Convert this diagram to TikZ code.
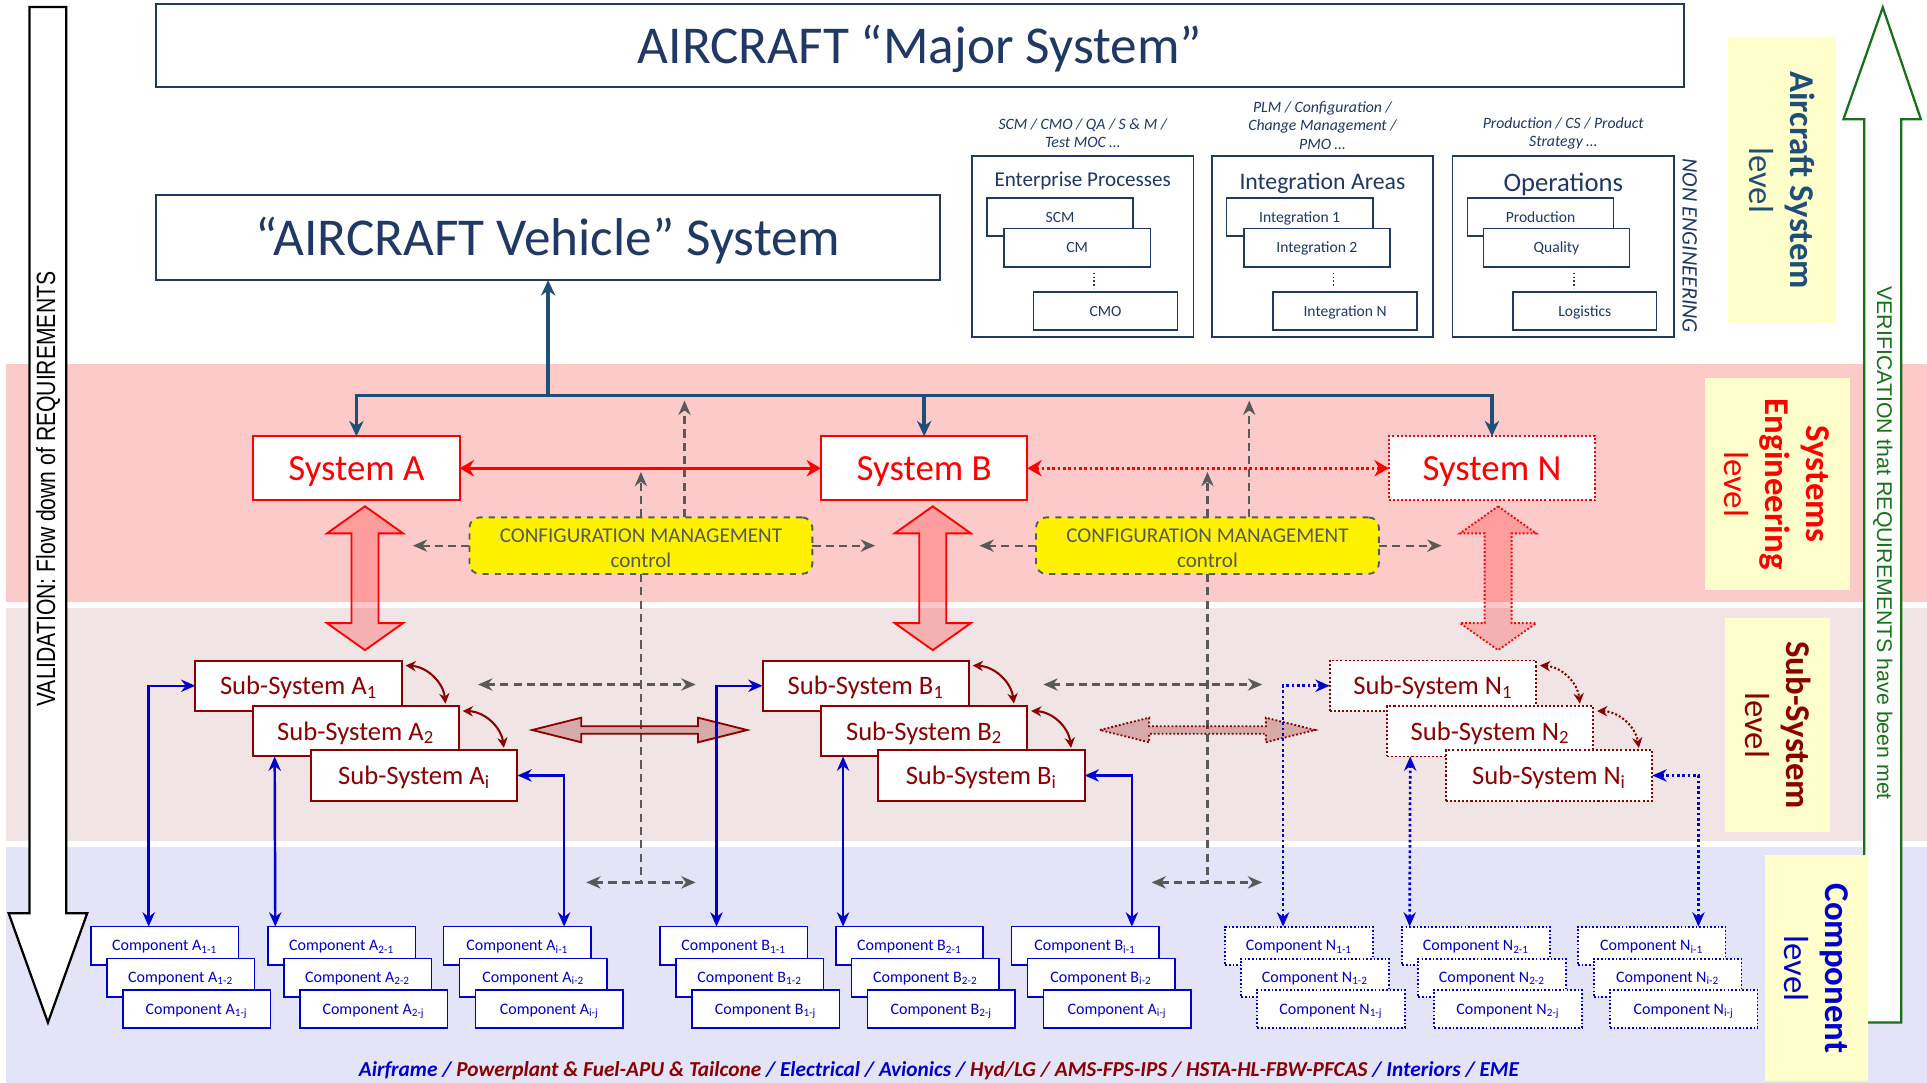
\documentclass[tikz,border=0pt]{standalone}
\usepackage{fontspec}
\setmainfont{Carlito}
\newfontfamily\narrowsans[FakeStretch=0.8]{Liberation Sans}
\newfontfamily\plainsans{Liberation Sans}
\usetikzlibrary{arrows.meta,calc}

\definecolor{navy}{HTML}{1F3864}
\definecolor{busblue}{HTML}{1F4E79}
\definecolor{dred}{HTML}{8B0000}
\definecolor{cblue}{HTML}{0000CC}
\definecolor{cmgray}{HTML}{595959}
\definecolor{bandsys}{HTML}{FDCACA}
\definecolor{bandsub}{HTML}{F1E4E4}
\definecolor{bandcomp}{HTML}{E3E4F7}
\definecolor{lblyellow}{HTML}{FFFFCC}
\definecolor{vgreen}{HTML}{177217}

\tikzset{
  every node/.style={inner sep=0pt,outer sep=0pt},
  sz/.style 2 args={minimum width=#1*0.6pt,minimum height=#2*0.6pt},
  lb/.style 2 args={text height=#1pt,text depth=#2pt},
  bigbox/.style={draw=navy,line width=0.9pt,fill=white,text=navy,lb={24.2}{7},font=\fontsize{26}{30}\selectfont},
  grpbox/.style={draw=navy,line width=0.8pt,fill=white,sz={180}{147}},
  itembox/.style={draw=navy,line width=0.8pt,fill=white,text=navy,lb={7.07}{2.05},font=\fontsize{7.6}{9}\selectfont},
  captxt/.style={text=navy,align=center,font=\itshape\fontsize{7.7}{9.1}\selectfont},
  dotline/.style={draw=navy,line width=0.8pt,densely dotted},
  sysbox/.style={draw=red,line width=1pt,fill=white,text=red,sz={168}{52},lb={16.7}{4.9},font=\fontsize{18}{20}\selectfont},
  subbox/.style={draw=dred,line width=1pt,fill=white,text=dred,sz={168}{41},lb={12.1}{3.5},font=\fontsize{13}{15}\selectfont},
  compbox/.style={draw=cblue,line width=0.8pt,fill=white,text=cblue,sz={120}{31},lb={7.25}{2.1},font=\fontsize{7.8}{9}\selectfont},
  dotbox/.style={densely dotted,line width=0.9pt},
  cmbox/.style={draw=cmgray,dashed,line width=0.9pt,fill=yellow,rounded corners=5pt,text=cmgray,align=center,sz={279}{46},font=\fontsize{10.3}{12.5}\selectfont},
  cmline/.style={draw=cmgray,line width=1.1pt,dash pattern=on 4pt off 2.5pt},
  cmarrow/.style={cmline,-{Stealth[length=7pt,width=6pt]}},
  cmboth/.style={cmline,{Stealth[length=7pt,width=6pt]}-{Stealth[length=7pt,width=6pt]}},
  bus/.style={draw=busblue,line width=1.7pt,-{Stealth[length=7.5pt,width=7pt]}},
  redlink/.style={draw=red,line width=1.3pt,{Stealth[length=7pt,width=8pt]}-{Stealth[length=7pt,width=8pt]}},
  bluelink/.style={draw=cblue,line width=1.2pt,{Stealth[length=7pt,width=6pt]}-{Stealth[length=7pt,width=6pt]}},
  bluedot/.style={bluelink,line width=1.3pt,dash pattern=on 1.3pt off 1.3pt},
  subcurve/.style={draw=dred,line width=1pt,{Stealth[length=5pt,width=5pt]}-{Stealth[length=5pt,width=5pt]}},
  lvlbox/.style={fill=lblyellow,align=center,rotate=-90,font=\fontsize{17}{20}\selectfont},
  redblock/.style={draw=red,line width=0.9pt,fill=red,fill opacity=0.22},
  dredblock/.style={draw=dred,line width=0.9pt,fill=dred,fill opacity=0.25},
  vdouble/.pic={\path[pic actions] (0,-58.5) -- (31,-36.5) -- (11,-36.5) -- (11,36.5) -- (31,36.5) -- (0,58.5) -- (-31,36.5) -- (-11,36.5) -- (-11,-36.5) -- (-31,-36.5) -- cycle;},
  hdouble/.pic={\path[pic actions] (-87.5,0) -- (-47.5,-10) -- (-47.5,-3) -- (47.5,-3) -- (47.5,-10) -- (87.5,0) -- (47.5,10) -- (47.5,3) -- (-47.5,3) -- (-47.5,10) -- cycle;},
}

% one stack of three overlapping component boxes
% #1 extra style, #2 name prefix, #3 left x, #4 letter, #5 index, #6 letter of last box
\newcommand\compstack[6]{%
  \node[compbox,#1] (#2a) at ({#3+60},769.5) {Component #4\textsubscript{#5-1}};
  \node[compbox,#1] (#2b) at ({#3+73},795.5) {Component #4\textsubscript{#5-2}};
  \node[compbox,#1] (#2j) at ({#3+86},821) {Component #6\textsubscript{#5-j}};
}
\newcommand\cmtext{\rule{0pt}{0.9em}CONFIGURATION MANAGEMENT\\control}

\begin{document}
\begin{tikzpicture}[x=0.6pt,y=-0.6pt]
\useasboundingbox (0,0) rectangle (1568,881);
\fill[white] (0,0) rectangle (1568,881);

% level bands
\fill[bandsys] (5,296) rectangle (1568,490);
\fill[bandsub] (5,495) rectangle (1568,684);
\fill[bandcomp] (5,689) rectangle (1568,881);

% validation arrow (down) and verification arrow (up)
\draw[fill=white,line width=1.1pt,line join=miter] (24,5.6) -- (54,5.6) -- (54,743) -- (71,743) -- (39,832) -- (7,743) -- (24,743) -- cycle;
\node[rotate=90,font=\narrowsans\fontsize{12.9}{14}\selectfont] (valtxt) at (39,398) {VALIDATION: Flow down of REQUIREMENTS};
\draw[draw=vgreen,fill=white,line width=1.1pt,line join=miter] (1517,832) -- (1517,97) -- (1500,97) -- (1532,6) -- (1563,97) -- (1547,97) -- (1547,832) -- cycle;
\node[rotate=-90,text=vgreen,font=\plainsans\fontsize{10.4}{12}\selectfont] (vertxt) at (1532,442) {VERIFICATION that REQUIREMENTS have been met};

% level labels
\node[lvlbox,sz={233}{88},text=busblue] (lvlac) at (1450,146.5) {\textbf{Aircraft System}\\level};
\node[lvlbox,sz={172.5}{118},text=red] (lvlse) at (1446,394) {\textbf{Systems}\\\textbf{Engineering}\\level};
\node[lvlbox,sz={174}{85},text=dred] (lvlss) at (1446.5,590) {\textbf{Sub-System}\\level};
\node[lvlbox,sz={184}{84.5},text=cblue] (lvlco) at (1478,788) {\textbf{Component}\\level};

% aircraft level
\node[bigbox,sz={1243}{68}] (major) at (748.5,37) {AIRCRAFT “Major System”};
\node[bigbox,sz={638}{69}] (vehicle) at (446,193.5) {“AIRCRAFT Vehicle” System};

% non engineering groups
\node[captxt] (capE) at (881,108.5) {SCM / CMO / QA / S \& M /\\Test MOC …};
\node[captxt] (capI) at (1076,102) {PLM / Configuration /\\Change Management /\\PMO …};
\node[captxt] (capO) at (1272,108.5) {Production / CS / Product\\Strategy …};

\node[grpbox] (grpE) at (881,200.5) {};
\node[text=navy,lb={9.6}{2.8},font=\fontsize{10.3}{12}\selectfont] (grpEt) at (881,146) {Enterprise Processes};
\node[itembox,sz={119}{31}] (scm) at (862.5,176.5) {SCM};
\node[itembox,sz={119}{31}] (cmi) at (876.5,201.5) {CM};
\node[itembox,sz={117}{31}] (cmo) at (899.5,253) {CMO};
\draw[dotline] (890,222) -- (890,234);

\node[grpbox] (grpI) at (1076,200.5) {};
\node[text=navy,lb={10.8}{3.1},font=\fontsize{11.6}{13}\selectfont] (grpIt) at (1076,148) {Integration Areas};
\node[itembox,sz={119}{31}] (int1) at (1057.5,176.5) {Integration 1};
\node[itembox,sz={119}{31}] (int2) at (1071.5,201.5) {Integration 2};
\node[itembox,sz={117}{31}] (intn) at (1094.5,253) {Integration N};
\draw[dotline] (1085,222) -- (1085,234);

\node[grpbox] (grpO) at (1272,200.5) {};
\node[text=navy,lb={12.1}{3.5},font=\fontsize{13}{15}\selectfont] (grpOt) at (1272,149) {Operations};
\node[itembox,sz={119}{31}] (prod) at (1253.5,176.5) {Production};
\node[itembox,sz={119}{31}] (qual) at (1266.5,201.5) {Quality};
\node[itembox,sz={117}{31}] (logi) at (1289.5,253) {Logistics};
\draw[dotline] (1281,222) -- (1281,234);

\node[rotate=-90,text=navy,font=\itshape\fontsize{10.8}{12}\selectfont] (noneng) at (1375,200) {NON ENGINEERING};

% systems level
\node[sysbox] (sysA) at (290,381) {System A};
\node[sysbox] (sysB) at (752,381) {System B};
\node[sysbox,dotbox] (sysN) at (1214,381) {System N};

\coordinate (jn) at (446,322);
\draw[bus] (jn) -- (vehicle.south);
\draw[bus] (jn) -| (sysA.north);
\draw[bus] (jn) -| (sysB.north);
\draw[bus] (jn) -| (sysN.north);

\draw[redlink] (sysA) -- (sysB);
\draw[redlink,dash pattern=on 1.3pt off 1.3pt] (sysB) -- (sysN);

% configuration management control
\node[cmbox] (cm1) at (521.5,444) {\cmtext};
\node[cmbox] (cm2) at (982.5,444) {\cmtext};

\coordinate (cm1l) at (336,444);   \coordinate (cm1r) at (712,444);
\coordinate (cm1u) at (521.5,384); \coordinate (cm1v) at (557,326);
\coordinate (cm1d) at (521.5,718);
\coordinate (cm1s1) at (389,557);  \coordinate (cm1s2) at (566,557);
\coordinate (cm1c1) at (477,718);  \coordinate (cm1c2) at (566,718);
\draw[cmarrow] (cm1.west) -- (cm1l);
\draw[cmarrow] (cm1.east) -- (cm1r);
\draw[cmarrow] (cm1.north) -- (cm1u);
\draw[cmarrow] ($(cm1.north)+(35.5,0)$) -- (cm1v);
\draw[cmline] (cm1.south) -- (cm1d);
\draw[cmboth] (cm1s1) -- (cm1s2);
\draw[cmboth] (cm1c1) -- (cm1c2);

\coordinate (cm2l) at (797,444);   \coordinate (cm2r) at (1173,444);
\coordinate (cm2u) at (982.5,384); \coordinate (cm2v) at (1016.5,326);
\coordinate (cm2d) at (982.5,718);
\coordinate (cm2s1) at (849,557);  \coordinate (cm2s2) at (1027,557);
\coordinate (cm2c1) at (937,718);  \coordinate (cm2c2) at (1027,718);
\draw[cmarrow] (cm2.west) -- (cm2l);
\draw[cmarrow] (cm2.east) -- (cm2r);
\draw[cmarrow] (cm2.north) -- (cm2u);
\draw[cmarrow] ($(cm2.north)+(34,0)$) -- (cm2v);
\draw[cmline] (cm2.south) -- (cm2d);
\draw[cmboth] (cm2s1) -- (cm2s2);
\draw[cmboth] (cm2c1) -- (cm2c2);

% system <-> sub-system block arrows
\pic[redblock] at (297,470.5) {vdouble};
\pic[redblock] at (759,470.5) {vdouble};
\pic[redblock,densely dotted] at (1219,470.5) {vdouble};

% sub-system <-> sub-system block arrows
\pic[dredblock] at (520.5,594) {hdouble};
\pic[dredblock,densely dotted] at (982.5,594) {hdouble};

% sub-systems
\node[subbox] (A1) at (243,558) {Sub-System A\textsubscript{1}};
\node[subbox] (A2) at (289.5,595) {Sub-System A\textsubscript{2}};
\node[subbox] (Ai) at (337,631) {Sub-System A\textsubscript{i}};
\node[subbox] (B1) at (704.5,558) {Sub-System B\textsubscript{1}};
\node[subbox] (B2) at (752,595) {Sub-System B\textsubscript{2}};
\node[subbox] (Bi) at (798.5,631) {Sub-System B\textsubscript{i}};
\node[subbox,dotbox] (N1) at (1166,558) {Sub-System N\textsubscript{1}};
\node[subbox,dotbox] (N2) at (1212.5,595) {Sub-System N\textsubscript{2}};
\node[subbox,dotbox] (Ni) at (1260.5,631) {Sub-System N\textsubscript{i}};

\draw[subcurve] ($(A1.north east)+(3,4)$) to[bend left=40] ($(A2.north east)+(-11,-2)$);
\draw[subcurve] ($(A2.north east)+(3,4)$) to[bend left=40] ($(Ai.north east)+(-11,-2)$);
\draw[subcurve] ($(B1.north east)+(3,4)$) to[bend left=40] ($(B2.north east)+(-11,-2)$);
\draw[subcurve] ($(B2.north east)+(3,4)$) to[bend left=40] ($(Bi.north east)+(-11,-2)$);
\draw[subcurve,densely dotted] ($(N1.north east)+(3,4)$) to[bend left=40] ($(N2.north east)+(-11,-2)$);
\draw[subcurve,densely dotted] ($(N2.north east)+(3,4)$) to[bend left=40] ($(Ni.north east)+(-11,-2)$);

% components
\compstack{}{ca1}{74}{A}{1}{A}
\compstack{}{ca2}{218}{A}{2}{A}
\compstack{}{cai}{361}{A}{i}{A}
\compstack{}{cb1}{537}{B}{1}{B}
\compstack{}{cb2}{680}{B}{2}{B}
\compstack{}{cbi}{823}{B}{i}{A}
\compstack{dotbox}{cn1}{997}{N}{1}{N}
\compstack{dotbox}{cn2}{1141}{N}{2}{N}
\compstack{dotbox}{cni}{1284}{N}{i}{N}

% sub-system <-> component links
\draw[bluelink] (A1.west) -| ($(ca1a.north west)+(47,0)$);
\draw[bluelink] ($(A2.south west)+(18,0)$) -- ($(ca2a.north west)+(6,0)$);
\draw[bluelink] (Ai.east) -| ($(caia.north east)+(-22,0)$);
\draw[bluelink] (B1.west) -| ($(cb1a.north west)+(46,0)$);
\draw[bluelink] ($(B2.south west)+(18,0)$) -- ($(cb2a.north west)+(6,0)$);
\draw[bluelink] (Bi.east) -| ($(cbia.north east)+(-22,0)$);
\draw[bluedot] (N1.west) -| ($(cn1a.north west)+(47,0)$);
\draw[bluedot] ($(N2.south west)+(19,0)$) -- ($(cn2a.north west)+(6,0)$);
\draw[bluedot] (Ni.east) -| ($(cnia.north east)+(-22,0)$);

% system families
\node[font=\bfseries\itshape\fontsize{10.4}{12}\selectfont] (families) at (764,871) {\textcolor{cblue}{Airframe /} \textcolor{dred}{Powerplant \& Fuel-APU \& Tailcone} \textcolor{cblue}{/ Electrical / Avionics /} \textcolor{dred}{Hyd/LG / AMS-FPS-IPS / HSTA-HL-FBW-PFCAS} \textcolor{cblue}{/ Interiors / EME}};
\end{tikzpicture}
\end{document}
